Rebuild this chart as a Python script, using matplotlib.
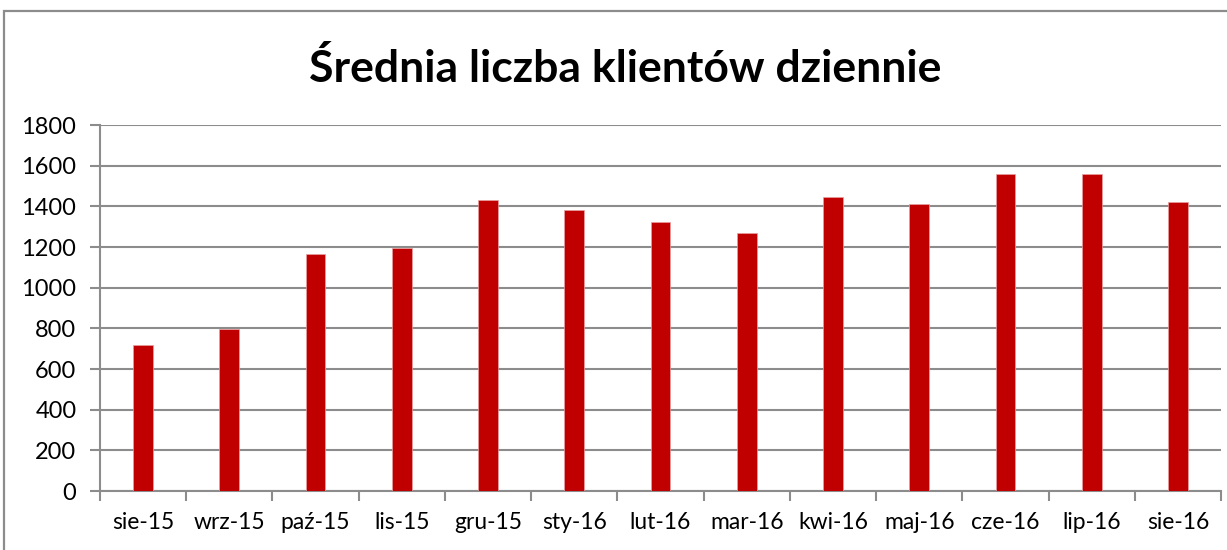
import matplotlib
matplotlib.use("Agg")
import matplotlib.pyplot as plt
from matplotlib.patches import Rectangle
import numpy as np

categories = ["sie-15", "wrz-15", "paź-15", "lis-15", "gru-15", "sty-16", "lut-16",
              "mar-16", "kwi-16", "maj-16", "cze-16", "lip-16", "sie-16"]
values = [718, 797, 1164, 1197, 1433, 1381, 1323, 1269, 1446, 1413, 1561, 1560, 1420]
yticks = [0, 200, 400, 600, 800, 1000, 1200, 1400, 1600, 1800]
title = "Średnia liczba klientów dziennie"

W, H = 1227, 550
fig = plt.figure(figsize=(W / 100, H / 100), dpi=100)
fig.patch.set_facecolor("white")

# outer chart frame
fig.patches.append(Rectangle((4 / W, -0.1), 1.2, (H - 11) / H + 0.1,
                             transform=fig.transFigure, fill=False,
                             edgecolor="#8c8c8c", linewidth=1.6, zorder=0))

ax = fig.add_axes([100 / W, 59 / H, (1221 - 100) / W, (491 - 125) / H])
x = np.arange(len(categories))
ax.bar(x, values, width=0.23, color="#C00000", edgecolor="#e8a0a0", linewidth=0.5, zorder=3)

ax.set_xlim(-0.5, len(categories) - 0.5)
ax.set_ylim(0, 1800)
ax.set_yticks(yticks)
ax.set_yticklabels([str(v) for v in yticks])
ax.yaxis.grid(True, color="#8c8c8c", linewidth=1.5, zorder=0)
ax.set_axisbelow(True)

# x ticks at category boundaries, labels centered
ax.set_xticks(np.arange(-0.5, len(categories) + 0.5, 1.0))
ax.set_xticklabels([])
ax.set_xticks(x, minor=True)
ax.set_xticklabels(categories, minor=True)
ax.tick_params(axis="x", which="major", direction="out", length=7, width=1.5, color="#8c8c8c")
ax.tick_params(axis="x", which="minor", length=0, pad=15)
ax.tick_params(axis="y", direction="out", length=7, width=1.5, color="#8c8c8c", pad=10)

for lab in ax.get_xticklabels(minor=True):
    lab.set_fontfamily("Lato")
    lab.set_fontsize(16.5)
    lab.set_color("black")
for lab in ax.get_yticklabels():
    lab.set_fontfamily("Lato")
    lab.set_fontsize(17)
    lab.set_color("black")

for s in ["top", "right"]:
    ax.spines[s].set_visible(False)
for s in ["left", "bottom"]:
    ax.spines[s].set_color("#8c8c8c")
    ax.spines[s].set_linewidth(1.5)

fig.text(625 / W, 1 - 68 / H, title, ha="center", va="center",
         fontfamily="Lato", fontweight="bold", fontsize=32, color="black")

fig.savefig("out.png", dpi=100, facecolor="white")
